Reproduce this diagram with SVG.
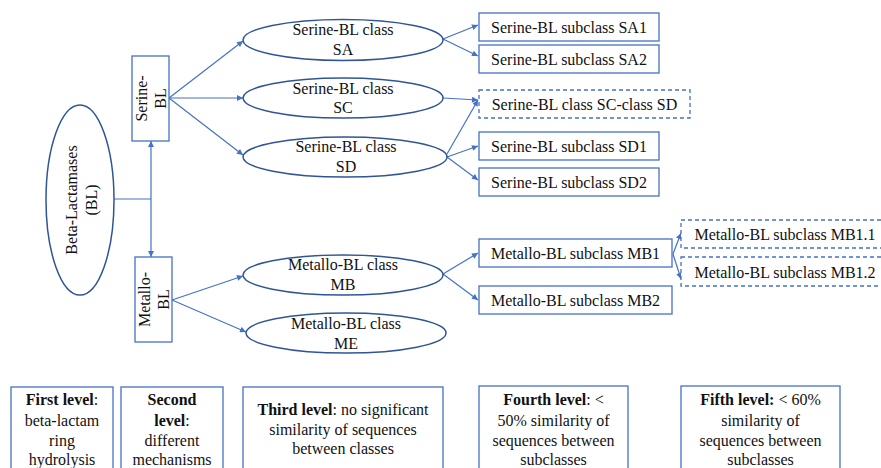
<svg xmlns="http://www.w3.org/2000/svg" width="881" height="468" viewBox="0 0 881 468">
<defs>
<marker id="ah" viewBox="0 0 10 10" refX="10" refY="5" markerWidth="7" markerHeight="6" markerUnits="userSpaceOnUse" orient="auto-start-reverse">
<path d="M0,0 L10,5 L0,10 z" fill="#4472C4"/>
</marker>
<style>
.el{fill:#fff;stroke:#2F5597;stroke-width:1.5}
.bx{fill:#fff;stroke:#4472C4;stroke-width:1.3}
.dx{fill:#fff;stroke:#4472C4;stroke-width:1.3;stroke-dasharray:4 3}
.c{fill:none;stroke:#4472C4;stroke-width:1.2}
.a{marker-end:url(#ah)}
</style>
</defs>
<rect width="881" height="468" fill="#fff"/>

<g id="connectors">
<polyline class="c" points="114,199 151,199"/>
<line class="c a" x1="151" y1="199" x2="151" y2="141"/>
<line class="c a" x1="151" y1="199" x2="151" y2="257"/>
<line class="c a" x1="169" y1="98" x2="243" y2="41"/>
<line class="c a" x1="169" y1="98" x2="243" y2="98"/>
<line class="c a" x1="169" y1="98" x2="243" y2="155"/>
<line class="c a" x1="172" y1="300" x2="243" y2="276"/>
<line class="c a" x1="172" y1="300" x2="246" y2="332"/>
<line class="c a" x1="443" y1="39" x2="478" y2="25"/>
<line class="c a" x1="443" y1="39" x2="478" y2="56"/>
<line class="c a" x1="443" y1="98" x2="478" y2="100"/>
<line class="c a" x1="447" y1="154" x2="478" y2="100"/>
<line class="c a" x1="447" y1="157" x2="478" y2="146"/>
<line class="c a" x1="447" y1="157" x2="478" y2="180"/>
<line class="c a" x1="443" y1="274" x2="478" y2="253"/>
<line class="c a" x1="443" y1="274" x2="478" y2="300"/>
<line class="c a" x1="673" y1="254" x2="681" y2="233"/>
<line class="c a" x1="673" y1="254" x2="681" y2="279"/>
</g>

<g font-family="Liberation Serif, Times New Roman, serif" font-size="16" fill="#111" text-anchor="middle">
<g id="bl">
<ellipse class="el" cx="80" cy="200" rx="34" ry="95"/>
<text transform="translate(77,200) rotate(-90)">Beta-Lactamases</text>
<text transform="translate(97,200) rotate(-90)">(BL)</text>
</g>

<g id="serine-bl">
<rect class="bx" x="132" y="56" width="37" height="85"/>
<text transform="translate(147,98.5) rotate(-90)">Serine-</text>
<text transform="translate(166,98.5) rotate(-90)">BL</text>
</g>

<g id="metallo-bl">
<rect class="bx" x="135" y="257" width="37" height="85"/>
<text transform="translate(150,299.5) rotate(-90)">Metallo-</text>
<text transform="translate(169,299.5) rotate(-90)">BL</text>
</g>

<g id="sa">
<ellipse class="el" cx="343" cy="40" rx="100" ry="20.5"/>
<text x="343" y="35">Serine-BL class</text>
<text x="343" y="55">SA</text>
</g>
<g id="sc">
<ellipse class="el" cx="343" cy="98" rx="100" ry="20"/>
<text x="343" y="94">Serine-BL class</text>
<text x="343" y="113">SC</text>
</g>
<g id="sd">
<ellipse class="el" cx="345" cy="157" rx="102" ry="20"/>
<text x="346" y="152">Serine-BL class</text>
<text x="346" y="172">SD</text>
</g>
<g id="mb">
<ellipse class="el" cx="343" cy="275" rx="100" ry="20"/>
<text x="343" y="270">Metallo-BL class</text>
<text x="343" y="290">MB</text>
</g>
<g id="me">
<ellipse class="el" cx="346" cy="333" rx="100" ry="20"/>
<text x="346" y="329">Metallo-BL class</text>
<text x="346" y="349">ME</text>
</g>

<g id="sa1"><rect class="bx" x="479" y="13" width="180" height="28"/><text x="569" y="33">Serine-BL subclass SA1</text></g>
<g id="sa2"><rect class="bx" x="479" y="45" width="180" height="28"/><text x="569" y="65">Serine-BL subclass SA2</text></g>
<g id="sc-sd"><rect class="dx" x="479" y="90" width="211" height="28"/><text x="584.5" y="110">Serine-BL class SC-class SD</text></g>
<g id="sd1"><rect class="bx" x="479" y="132" width="180" height="28"/><text x="569" y="152">Serine-BL subclass SD1</text></g>
<g id="sd2"><rect class="bx" x="479" y="168" width="180" height="28"/><text x="569" y="188">Serine-BL subclass SD2</text></g>
<g id="mb1"><rect class="bx" x="479" y="239" width="193" height="28"/><text x="575.5" y="259">Metallo-BL subclass MB1</text></g>
<g id="mb2"><rect class="bx" x="479" y="286" width="193" height="28"/><text x="575.5" y="306">Metallo-BL subclass MB2</text></g>
<g id="mb1-1"><rect class="dx" x="681" y="220" width="210" height="28"/><text x="785" y="240">Metallo-BL subclass MB1.1</text></g>
<g id="mb1-2"><rect class="dx" x="681" y="257" width="210" height="29"/><text x="785" y="278">Metallo-BL subclass MB1.2</text></g>

<g id="level1">
<rect class="bx" x="11" y="387" width="102" height="95"/>
<text x="62" y="405"><tspan font-weight="bold">First level</tspan>:</text>
<text x="62" y="426">beta-lactam</text>
<text x="62" y="446">ring</text>
<text x="62" y="465">hydrolysis</text>
</g>
<g id="level2">
<rect class="bx" x="121" y="387" width="102" height="95"/>
<text x="172" y="405" font-weight="bold">Second</text>
<text x="172" y="426"><tspan font-weight="bold">level</tspan>:</text>
<text x="172" y="446">different</text>
<text x="172" y="465">mechanisms</text>
</g>
<g id="level3">
<rect class="bx" x="243" y="387" width="200" height="95"/>
<text x="343" y="415"><tspan font-weight="bold">Third level</tspan>: no significant</text>
<text x="343" y="435">similarity of sequences</text>
<text x="343" y="454">between classes</text>
</g>
<g id="level4">
<rect class="bx" x="479" y="386" width="149" height="96"/>
<text x="553.5" y="405"><tspan font-weight="bold">Fourth level</tspan>: &lt;</text>
<text x="553.5" y="426">50% similarity of</text>
<text x="553.5" y="446">sequences between</text>
<text x="553.5" y="465">subclasses</text>
</g>
<g id="level5">
<rect class="bx" x="681" y="386" width="159" height="96"/>
<text x="760.5" y="405"><tspan font-weight="bold">Fifth level:</tspan> &lt; 60%</text>
<text x="760.5" y="426">similarity of</text>
<text x="760.5" y="446">sequences between</text>
<text x="760.5" y="465">subclasses</text>
</g>
</g>
</svg>
